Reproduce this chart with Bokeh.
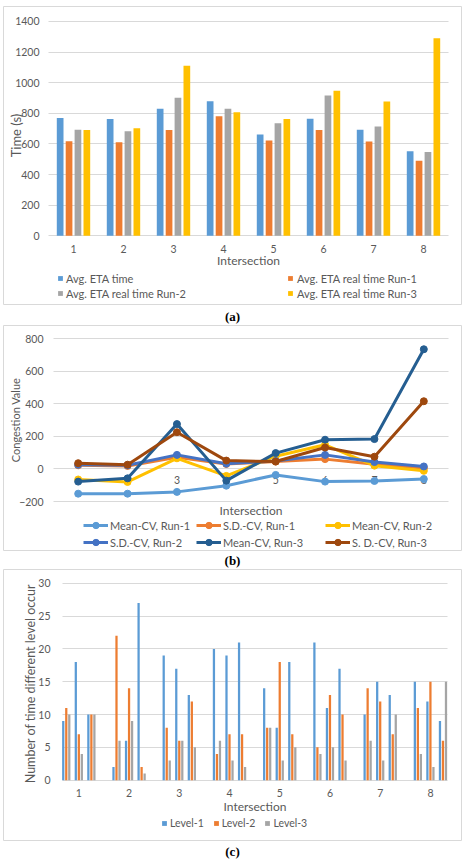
from bokeh.embed import file_html
from bokeh.layouts import column
from bokeh.models import (ColumnDataSource, FixedTicker, Legend, LegendItem,
                          Range1d, Title)
from bokeh.plotting import figure
from bokeh.resources import INLINE
from bokeh.transform import dodge

FONT = "Lato"
CAPTION_FONT = "Liberation Serif"
INK = "#595959"
GRID = "#D9D9D9"
PAGE_W = 466

intersections = [1, 2, 3, 4, 5, 6, 7, 8]

# (a) average ETA per intersection, in seconds
eta_labels = ["Avg. ETA time", "Avg. ETA real time Run-1",
              "Avg. ETA real time Run-2", "Avg. ETA real time Run-3"]
avg_eta_time = [770, 763, 830, 878, 661, 765, 692, 552]
avg_eta_run1 = [617, 611, 691, 780, 622, 691, 616, 490]
avg_eta_run2 = [693, 683, 902, 830, 735, 917, 714, 547]
avg_eta_run3 = [690, 702, 1111, 807, 763, 948, 877, 1290]
eta_colors = ["#5B9BD5", "#ED7D31", "#A5A5A5", "#FFC000"]
time_ticks = [0, 200, 400, 600, 800, 1000, 1200, 1400]

# (b) congestion values
cv_labels = ["Mean-CV, Run-1", "S.D.-CV, Run-1", "Mean-CV, Run-2",
             "S.D.-CV, Run-2", "Mean-CV, Run-3", "S. D.-CV, Run-3"]
mean_cv_run1 = [-152, -152, -141, -103, -37, -78, -74, -62]
sd_cv_run1 = [22, 18, 72, 30, 45, 60, 28, 5]
mean_cv_run2 = [-65, -80, 65, -43, 78, 148, 20, -12]
sd_cv_run2 = [25, 22, 86, 32, 49, 86, 42, 15]
mean_cv_run3 = [-78, -58, 275, -72, 97, 179, 183, 734]
sd_cv_run3 = [35, 26, 225, 51, 45, 131, 75, 415]
cv_colors = ["#5B9BD5", "#ED7D31", "#FFC000", "#4472C4", "#255E91", "#9E480E"]
cv_ticks = [-200, 0, 200, 400, 600, 800]

# (c) how often each level occurs: three runs per intersection
level_labels = ["Level-1", "Level-2", "Level-3"]
level_intersection = [1, 1, 1, 2, 2, 2, 3, 3, 3, 4, 4, 4,
                      5, 5, 5, 6, 6, 6, 7, 7, 7, 8, 8, 8]
level_run = [1, 2, 3] * 8
level_1 = [9, 18, 10, 2, 6, 27, 19, 17, 13, 20, 19, 21,
           14, 8, 18, 21, 11, 17, 10, 15, 13, 15, 12, 9]
level_2 = [11, 7, 10, 22, 14, 2, 8, 6, 12, 4, 7, 7,
           8, 18, 7, 5, 13, 10, 14, 12, 7, 11, 15, 6]
level_3 = [10, 4, 10, 6, 9, 1, 3, 6, 5, 6, 3, 2,
           8, 3, 5, 4, 5, 3, 6, 3, 10, 4, 2, 15]
level_colors = ["#5B9BD5", "#ED7D31", "#A5A5A5"]
count_ticks = [0, 5, 10, 15, 20, 25, 30]


def panel(page_top, height, box, plot_px, x_span, y_span, y_ticks):
    """One boxed chart.  The frame is the whole box; the plotting area inside it
    is plot_px (page pixels) and maps to x_span / y_span."""
    bx0, by0, bx1, by1 = box
    px0, py0, px1, py1 = plot_px
    (xa, xb), (ya, yb) = x_span, y_span
    kx = (px1 - px0) / (xb - xa)
    ky = (py1 - py0) / (yb - ya)
    x_range = Range1d(xa - (px0 - bx0) / kx, xb + (bx1 - px1) / kx)
    y_range = Range1d(ya - (by1 - py1) / ky, yb + (py0 - by0) / ky)
    p = figure(width=PAGE_W, height=height, x_range=x_range, y_range=y_range,
               output_backend="svg", toolbar_location=None,
               min_border_left=bx0, min_border_right=PAGE_W - bx1,
               min_border_top=by0 - page_top,
               min_border_bottom=page_top + height - by1)
    p.outline_line_color = GRID
    p.outline_line_width = 1
    p.background_fill_color = "white"
    p.border_fill_color = "white"
    p.xgrid.visible = False
    p.ygrid.grid_line_color = GRID
    p.ygrid.cross_bounds = (xa, xb)
    p.yaxis.ticker = FixedTicker(ticks=y_ticks)
    p.xaxis.ticker = FixedTicker(ticks=intersections)
    p.yaxis.fixed_location = xa
    p.xaxis.fixed_location = 0
    p.yaxis.bounds = (ya, yb)
    p.xaxis.bounds = (xa, xb)
    for ax in p.axis:
        ax.level = "underlay"
        ax.axis_line_color = None
        ax.major_tick_line_color = None
        ax.minor_tick_line_color = None
        ax.major_tick_in = 0
        ax.major_tick_out = 0
        ax.minor_tick_in = 0
        ax.minor_tick_out = 0
        ax.major_label_text_font = FONT
        ax.major_label_text_font_size = "10.5px"
        ax.major_label_text_color = INK
        ax.axis_label_text_font = FONT
        ax.axis_label_text_font_style = "normal"
        ax.axis_label_text_color = INK
    return p, dict(left=bx0, bottom=by1)


def legend_at(p, geo, items, x, y_bottom, **style):
    """Legend whose bottom-left corner sits at page pixel (x, y_bottom)."""
    p.add_layout(Legend(items=items, location=(x - geo["left"], geo["bottom"] - y_bottom),
                        padding=0, margin=0, border_line_color=None,
                        background_fill_alpha=0, label_text_font=FONT,
                        label_text_color=INK, **style))


def caption(p, text, standoff):
    p.add_layout(Title(text=text, align="center", standoff=standoff,
                       text_font=CAPTION_FONT, text_font_style="bold",
                       text_font_size="13px", text_color="black"), "below")


def legend_key(p, source, top, color):
    """Hidden square marker renderer used only as a small legend swatch."""
    return p.scatter(x="x", y=top, source=source, marker="square", fill_color=color,
                     line_color=None, visible=False)


# ---------------- (a) grouped bars ----------------
pa, ga = panel(0, 325, (3, 6, 461, 305), (48, 21, 448, 236),
               (0.5, 8.5), (0, 1400), time_ticks)
pa.yaxis.bounds = (-90, 1400)   # centres the axis title a little lower
src_a = ColumnDataSource(dict(x=intersections, eta=avg_eta_time, run1=avg_eta_run1,
                              run2=avg_eta_run2, run3=avg_eta_run3))
keys_a = []
for k, (col, color) in enumerate(zip(["eta", "run1", "run2", "run3"], eta_colors)):
    pa.vbar(x=dodge("x", (k - 1.5) * 0.178, range=pa.x_range), top=col, width=0.134,
            source=src_a, fill_color=color, line_color=None)
    keys_a.append(legend_key(pa, src_a, col, color))
pa.xaxis.axis_label = "Intersection"
pa.xaxis.axis_label_text_font_size = "12px"
pa.xaxis.major_label_standoff = 9
pa.xaxis.axis_label_standoff = -3
pa.yaxis.axis_label = "Time (s)"
pa.yaxis.axis_label_text_font_size = "13px"
pa.yaxis.major_label_standoff = 9
pa.yaxis.axis_label_standoff = -12
sq_style = dict(glyph_width=12, glyph_height=14, label_height=14, spacing=1,
                label_text_font_size="11px")
legend_at(pa, ga, [LegendItem(label=eta_labels[i], renderers=[keys_a[i]]) for i in (0, 2)],
          54, 301, label_standoff=0, **sq_style)
legend_at(pa, ga, [LegendItem(label=eta_labels[i], renderers=[keys_a[i]]) for i in (1, 3)],
          284, 301, label_standoff=1, **sq_style)
caption(pa, "(a)", 4)

# ---------------- (b) lines with markers ----------------
pb, gb = panel(325, 244, (3, 325, 461, 550), (53, 338, 448, 501),
               (0.5, 8.5), (-200, 800), cv_ticks)
pb.xaxis.axis_label = "Intersection"
pb.xaxis.axis_label_text_font_size = "12px"
pb.xaxis.major_label_standoff = 7
pb.xaxis.axis_label_standoff = 16
pb.yaxis.axis_label = "Congestion Value"
pb.yaxis.axis_label_text_font_size = "11px"
pb.yaxis.major_label_standoff = 10
pb.yaxis.axis_label_standoff = -6
cv_values = [mean_cv_run1, sd_cv_run1, mean_cv_run2, sd_cv_run2, mean_cv_run3, sd_cv_run3]
cv_items = []
for label, vals, color in zip(cv_labels, cv_values, cv_colors):
    r_line = pb.line(intersections, vals, line_color=color, line_width=3)
    r_dot = pb.scatter(intersections, vals, size=7, fill_color=color, line_color=color)
    cv_items.append(LegendItem(label=label, renderers=[r_line, r_dot]))
line_style = dict(glyph_width=25, glyph_height=16, label_height=16, spacing=1,
                  label_standoff=2, label_text_font_size="11px")
for x0, idx in ((83, (0, 3)), (196, (1, 4)), (325, (2, 5))):
    legend_at(pb, gb, [cv_items[i] for i in idx], x0, 550, **line_style)
caption(pb, "(b)", 1)

# ---------------- (c) three runs x three levels per intersection ----------------
pc, gc = panel(569, 290, (3, 569, 461, 843), (62, 583, 447, 782),
               (0.675, 8.34), (0, 30), count_ticks)
RUN_STEP = 0.25
LEVEL_STEP = 0.06
src_c = ColumnDataSource(dict(
    x=[i + (r - 2) * RUN_STEP for i, r in zip(level_intersection, level_run)],
    l1=level_1, l2=level_2, l3=level_3))
keys_c = []
for k, (col, color) in enumerate(zip(["l1", "l2", "l3"], level_colors)):
    pc.vbar(x=dodge("x", (k - 1) * LEVEL_STEP, range=pc.x_range), top=col, width=0.045,
            source=src_c, fill_color=color, line_color=None)
    keys_c.append(legend_key(pc, src_c, col, color))
pc.xaxis.axis_label = "Intersection"
pc.xaxis.axis_label_text_font_size = "12px"
pc.xaxis.major_label_standoff = 9
pc.xaxis.axis_label_standoff = -2
pc.yaxis.axis_label = "Number of time different  level occur"
pc.yaxis.axis_label_text_font_size = "12.5px"
pc.yaxis.major_label_standoff = 12
pc.yaxis.axis_label_standoff = -3
legend_at(pc, gc, [LegendItem(label=l, renderers=[r]) for l, r in zip(level_labels, keys_c)],
          158, 833, orientation="horizontal", glyph_width=12, glyph_height=14,
          label_height=14, spacing=6, label_standoff=0, label_text_font_size="10.5px")
caption(pc, "(c)", 2)

layout = column(pa, pb, pc, spacing=0)
open("out.html", "w").write(file_html(layout, INLINE))
